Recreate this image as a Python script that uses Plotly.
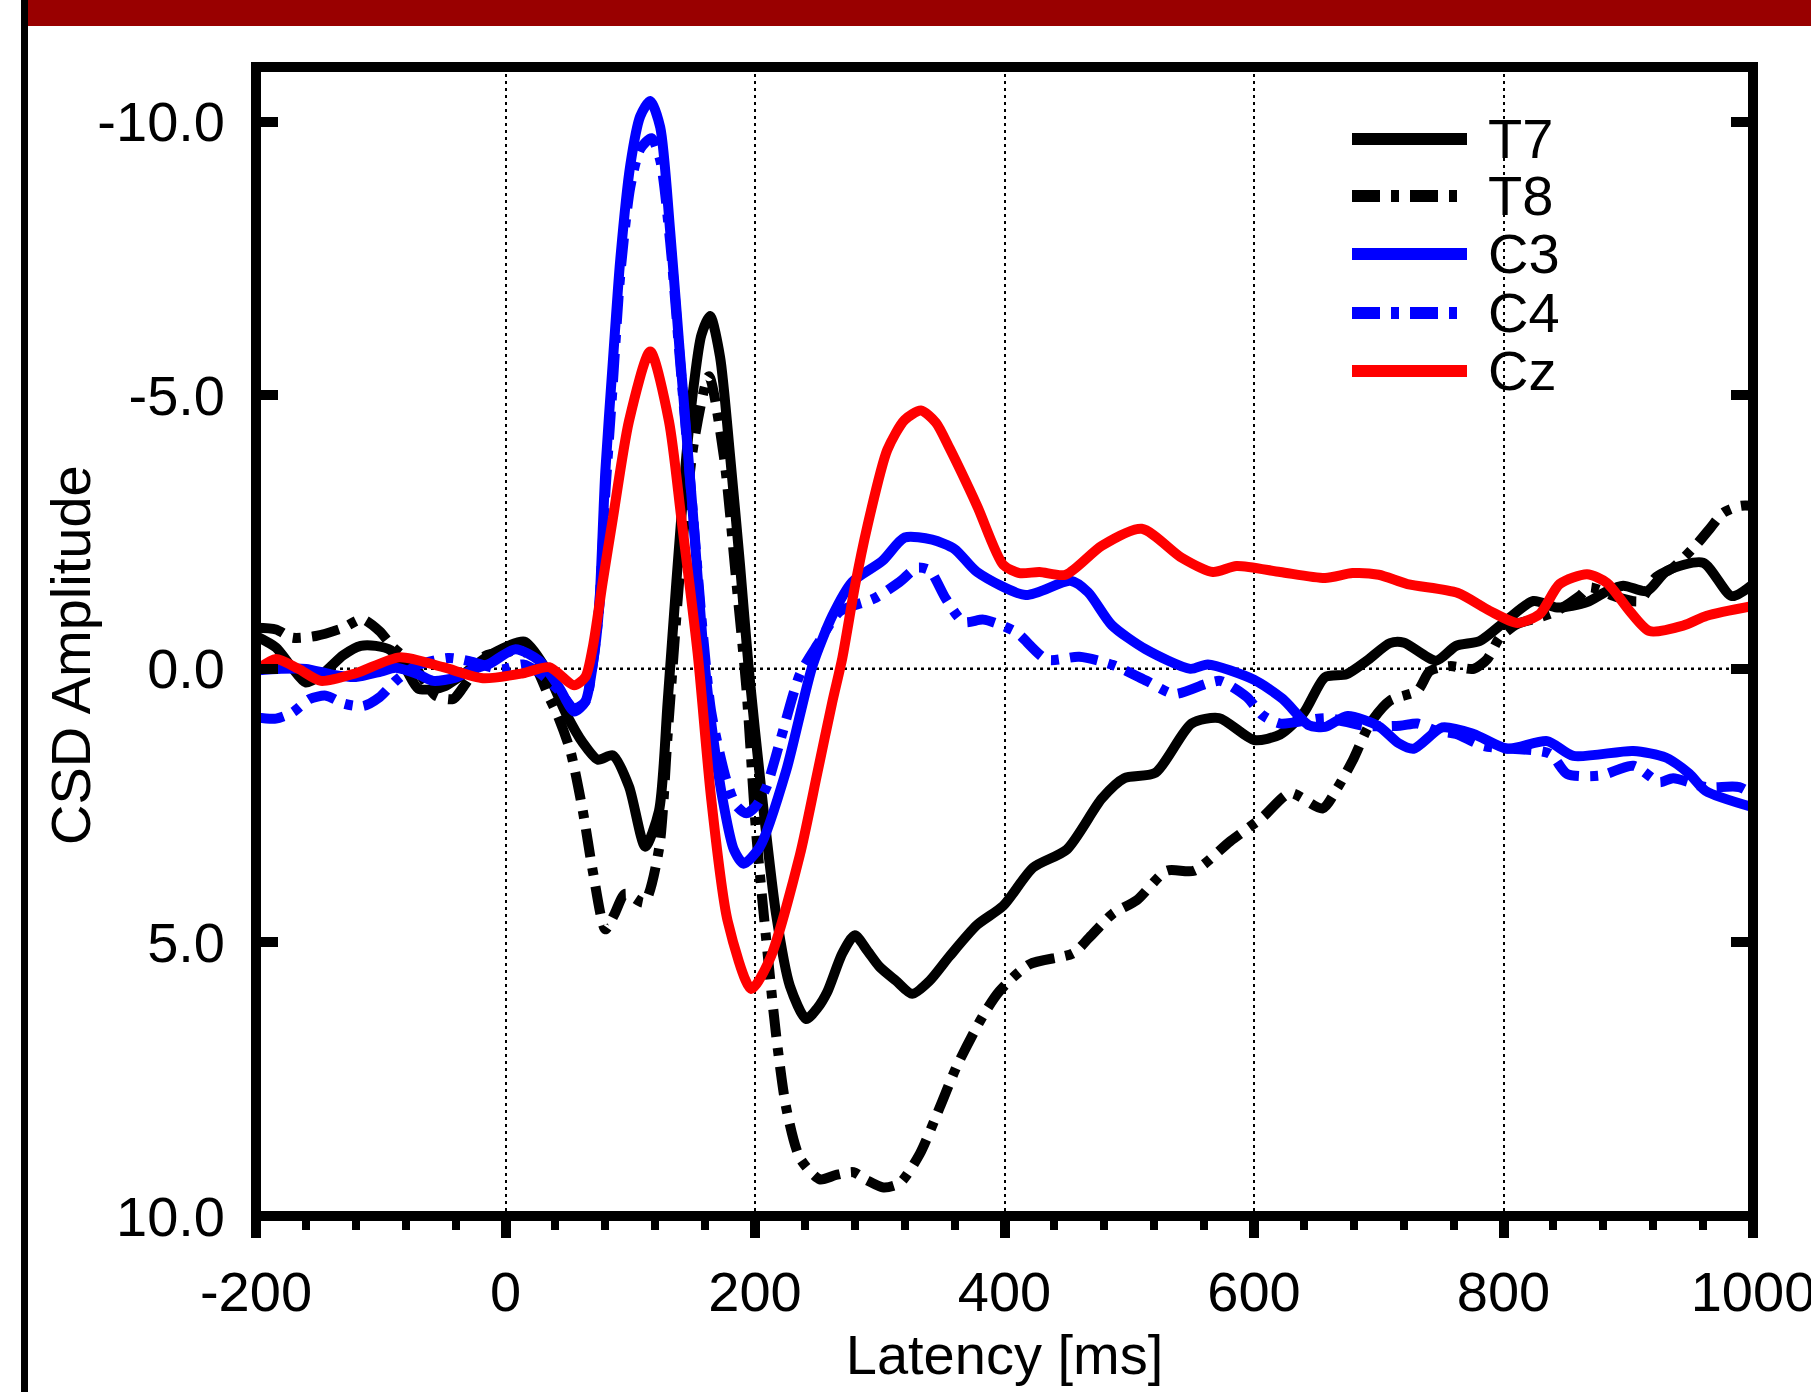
import plotly.graph_objects as go

# ---------------- data (latency in ms, CSD amplitude) ----------------
t_T7 = [-200, -184, -172, -160, -147, -130, -116, -104, -92, -80,
        -70, -58, -48, -34, -12, 15, 31, 49, 62, 74,
        86, 99, 112, 123, 130, 137, 145, 151, 157, 164,
        172, 180, 188, 195, 205, 217, 228, 241, 250, 258,
        270, 280, 290, 300, 313, 326, 340, 356, 378, 399,
        423, 450, 478, 496, 521, 550, 572, 600, 621, 640,
        657, 674, 690, 709, 720, 746, 762, 781, 802, 824,
        843, 867, 883, 896, 915, 931, 960, 983, 1000]
v_T7 = [-0.6, -0.39, -0.05, 0.25, 0.1, -0.25, -0.42, -0.42, -0.34, 0.0,
        0.36, 0.37, 0.31, 0.1, -0.26, -0.5, -0.05, 0.84, 1.35, 1.66,
        1.58, 2.15, 3.25, 2.6, 0.6, -1.6, -3.9, -5.2, -6.1, -6.45,
        -5.7, -3.9, -1.9, 0.0, 2.2, 4.5, 5.8, 6.4, 6.2, 5.9,
        5.2, 4.87, 5.15, 5.45, 5.7, 5.94, 5.7, 5.25, 4.68, 4.33,
        3.63, 3.3, 2.37, 2.0, 1.9, 1.0, 0.9, 1.3, 1.2, 0.8,
        0.15, 0.1, -0.14, -0.47, -0.48, -0.15, -0.42, -0.51, -0.88, -1.24,
        -1.12, -1.22, -1.42, -1.52, -1.42, -1.79, -1.94, -1.33, -1.55]

t_T8 = [-200, -184, -171, -152, -130, -115, -101, -90, -74, -56,
        -42, -34, -16, 0, 14, 25, 35, 42, 52, 62,
        70, 80, 87, 96, 111, 123, 130, 141, 151, 163,
        175, 185, 193, 201, 209, 217, 225, 236, 252, 265,
        279, 290, 303, 316, 332, 348, 362, 383, 396, 420,
        455, 468, 487, 506, 530, 552, 581, 607, 629, 655,
        667, 679, 693, 709, 731, 741, 757, 776, 787, 797,
        811, 829, 843, 861, 869, 891, 909, 922, 936, 955,
        966, 976, 990, 1000]
v_T8 = [-0.75, -0.72, -0.57, -0.6, -0.75, -0.91, -0.69, -0.39, -0.08, 0.49,
        0.55, 0.34, -0.24, -0.3, -0.35, 0.0, 0.52, 0.86, 1.5, 2.6,
        3.7, 4.76, 4.5, 4.11, 4.27, 3.3, 1.2, -2.09, -4.13, -5.35,
        -3.89, -1.6, 0.33, 3.02, 4.95, 6.71, 8.02, 8.94, 9.33, 9.25,
        9.2, 9.35, 9.48, 9.4, 8.87, 8.02, 7.25, 6.33, 5.89, 5.4,
        5.2, 4.91, 4.47, 4.23, 3.69, 3.69, 3.15, 2.71, 2.27, 2.55,
        2.17, 1.68, 1.0, 0.58, 0.4, 0.04, -0.05, 0.0, -0.18, -0.57,
        -0.82, -0.94, -1.06, -1.33, -1.49, -1.31, -1.24, -1.67, -1.85, -2.28,
        -2.58, -2.85, -2.98, -2.98]

t_C3 = [-200, -180, -160, -140, -120, -100, -88, -70, -58, -40,
        -25, -13, 8, 27, 43, 55, 64, 70, 75, 80,
        86, 92, 100, 108, 116, 124, 132, 140, 150, 158,
        165, 175, 183, 191, 204, 225, 246, 262, 278, 302,
        320, 342, 360, 378, 417, 453, 467, 486, 513, 549,
        563, 600, 623, 644, 657, 675, 700, 716, 728, 751,
        776, 803, 835, 856, 904, 930, 949, 962, 1000]
v_C3 = [0.03, 0.0, 0.0, 0.1, 0.15, 0.05, -0.02, 0.1, 0.22, 0.16,
        0.0, -0.09, -0.36, -0.15, 0.34, 0.78, 0.6, -0.08, -1.1, -3.6,
        -5.6, -7.48, -9.2, -10.1, -10.38, -9.9, -8.0, -5.7, -2.9, -0.5,
        1.0, 2.5, 3.3, 3.56, 3.25, 1.86, -0.05, -0.97, -1.59, -1.97,
        -2.4, -2.36, -2.19, -1.77, -1.35, -1.61, -1.4, -0.8, -0.36, 0.0,
        -0.08, 0.2, 0.55, 1.03, 1.06, 0.86, 1.05, 1.36, 1.46, 1.07,
        1.19, 1.46, 1.32, 1.59, 1.5, 1.62, 1.92, 2.23, 2.53]

t_C4 = [-200, -184, -171, -157, -144, -129, -114, -101, -88, -72,
        -46, -29, -15, -3, 14, 27, 43, 55, 64, 70,
        75, 80, 86, 92, 100, 108, 117, 124, 132, 140,
        150, 158, 165, 177, 185, 193, 201, 209, 220, 236,
        250, 268, 295, 316, 330, 340, 353, 367, 383, 396,
        410, 434, 460, 487, 514, 536, 562, 573, 594, 607,
        621, 658, 688, 717, 731, 746, 762, 784, 837, 851,
        878, 904, 925, 936, 962, 989, 1000]
v_C4 = [0.89, 0.91, 0.80, 0.55, 0.49, 0.64, 0.68, 0.52, 0.22, -0.05,
        -0.2, -0.14, -0.05, 0.01, -0.08, 0.07, 0.4, 0.72, 0.6, -0.1,
        -1.1, -3.2, -5.2, -7.2, -8.8, -9.5, -9.7, -9.3, -7.8, -5.6,
        -2.9, -0.7, 0.8, 2.03, 2.5, 2.64, 2.5, 2.17, 1.33, 0.1,
        -0.44, -1.05, -1.28, -1.59, -1.85, -1.8, -1.28, -0.86, -0.9, -0.81,
        -0.66, -0.17, -0.22, -0.07, 0.22, 0.46, 0.27, 0.22, 0.51, 0.85,
        1.0, 0.9, 1.04, 1.04, 1.0, 1.13, 1.19, 1.41, 1.55, 1.92,
        1.95, 1.77, 2.07, 2.0, 2.16, 2.16, 2.3]

t_Cz = [-200, -184, -166, -148, -120, -85, -50, -18, 14, 35,
        55, 64, 70, 78, 86, 99, 116, 131, 141, 154,
        165, 178, 197, 212, 236, 250, 262, 270, 280, 290,
        306, 320, 333, 345, 356, 378, 399, 412, 428, 449,
        478, 510, 542, 567, 586, 621, 657, 679, 700, 723,
        763, 789, 811, 829, 845, 867, 883, 901, 917, 944,
        963, 1000]
v_Cz = [0.03, -0.18, 0.0, 0.22, 0.08, -0.21, -0.03, 0.17, 0.08, -0.03,
        0.3, 0.15, -0.4, -1.6, -2.74, -4.53, -5.8, -4.53, -2.74, -0.29,
        2.4, 4.6, 5.85, 5.3, 3.4, 1.9, 0.6, -0.2, -1.5, -2.6,
        -4.0, -4.55, -4.72, -4.5, -4.03, -2.98, -1.9, -1.75, -1.77, -1.72,
        -2.25, -2.56, -2.03, -1.77, -1.88, -1.77, -1.66, -1.75, -1.72, -1.55,
        -1.39, -1.06, -0.84, -1.0, -1.55, -1.73, -1.57, -1.06, -0.69, -0.79,
        -0.97, -1.15]

series_names = ["T7", "T8", "C3", "C4", "Cz"]
series_t = [t_T7, t_T8, t_C3, t_C4, t_Cz]
series_v = [v_T7, v_T8, v_C3, v_C4, v_Cz]

x_ticks = [-200, 0, 200, 400, 600, 800, 1000]
y_ticks = [-10, -5, 0, 5, 10]
y_ticktext = ["-10.0", "-5.0", "0.0", "5.0", "10.0"]

x_title = "Latency [ms]"
y_title = "CSD Amplitude"

# ---------------- styling ----------------
FONT = "Liberation Sans, Arial, sans-serif"
FS = 56
DASHDOT = "28px,11px,8px,11px"
styles = {
    "T7": dict(color="#000000", dash="solid"),
    "T8": dict(color="#000000", dash=DASHDOT),
    "C3": dict(color="#0000FF", dash="solid"),
    "C4": dict(color="#0000FF", dash=DASHDOT),
    "Cz": dict(color="#FF0000", dash="solid"),
}
LW = 10

W, H = 1811, 1392
ML, MR, MT, MB = 256, 58, 67, 176
PW, PH = W - ML - MR, H - MT - MB


def px_x(px):
    return (px - ML) / PW


def px_y(py):
    return (H - MB - py) / PH


fig = go.Figure()
for name, tt, vv in zip(series_names, series_t, series_v):
    st = styles[name]
    fig.add_trace(go.Scatter(
        x=tt, y=vv, mode="lines", name=name, showlegend=False,
        line=dict(color=st["color"], width=LW, dash=st["dash"],
                  shape="spline", smoothing=0.7),
        hoverinfo="skip",
    ))

shapes = []
# dotted zero line
shapes.append(dict(type="line", xref="paper", x0=0, x1=1, yref="y", y0=0, y1=0,
                   line=dict(color="#000000", width=2.5, dash="3px,4px"), layer="below"))
# plot frame
shapes.append(dict(type="rect", xref="paper", yref="paper", x0=0, x1=1, y0=0, y1=1,
                   line=dict(color="#000000", width=10), fillcolor="rgba(0,0,0,0)",
                   layer="above"))
# red banner and left black rule (page decoration)
shapes.append(dict(type="rect", xref="paper", yref="paper",
                   x0=px_x(27), x1=px_x(W + 5), y0=px_y(26), y1=px_y(-5),
                   fillcolor="#990000", line=dict(width=0), layer="above"))
shapes.append(dict(type="rect", xref="paper", yref="paper",
                   x0=px_x(21), x1=px_x(28), y0=px_y(H + 5), y1=px_y(-5),
                   fillcolor="#000000", line=dict(width=0), layer="above"))

# manual legend (key lines + labels)
legend_rows = [139, 196, 254, 313, 371]
annotations = []
for name, ry in zip(series_names, legend_rows):
    st = styles[name]
    shapes.append(dict(type="line", xref="paper", yref="paper",
                       x0=px_x(1352), x1=px_x(1467), y0=px_y(ry), y1=px_y(ry),
                       line=dict(color=st["color"], width=12, dash=st["dash"])))
    annotations.append(dict(text=name, xref="paper", yref="paper",
                            x=px_x(1486), y=px_y(ry - 1), xanchor="left", yanchor="middle",
                            showarrow=False, font=dict(family=FONT, size=FS, color="#000000")))

# y-axis title
annotations.append(dict(text=y_title, xref="paper", yref="paper",
                        x=px_x(70), y=px_y(655), xanchor="center", yanchor="middle",
                        textangle=-90, showarrow=False,
                        font=dict(family=FONT, size=FS, color="#000000")))

fig.update_layout(
    width=W, height=H, autosize=False,
    margin=dict(l=ML, r=MR, t=MT, b=MB, pad=0),
    paper_bgcolor="#FFFFFF", plot_bgcolor="#FFFFFF",
    font=dict(family=FONT, size=FS, color="#000000"),
    shapes=shapes, annotations=annotations,
    showlegend=False,
)

fig.update_xaxes(
    range=[-200, 1000], tickvals=x_ticks, ticktext=[str(v) for v in x_ticks],
    automargin=False,
    showgrid=True, gridcolor="#000000", gridwidth=2, griddash="3px,4px",
    zeroline=False, showline=False, mirror=False,
    ticks="outside", ticklen=21, tickwidth=10, tickcolor="#000000",
    minor=dict(dtick=40, tick0=-200, ticks="outside", ticklen=13, tickwidth=8,
               tickcolor="#000000", showgrid=False),
    tickfont=dict(family=FONT, size=FS, color="#000000"),
    ticklabeloverflow="allow", ticklabelstandoff=6,
    title=dict(text=x_title, font=dict(family=FONT, size=FS, color="#000000"), standoff=0),
)
fig.update_yaxes(
    range=[10, -11], tickvals=y_ticks, ticktext=y_ticktext,
    automargin=False,
    showgrid=False, zeroline=False, showline=False,
    mirror="ticks", ticks="inside", ticklen=22, tickwidth=10, tickcolor="#000000",
    tickfont=dict(family=FONT, size=FS, color="#000000"),
    ticklabelstandoff=30,
)

fig.write_html("out.html")
